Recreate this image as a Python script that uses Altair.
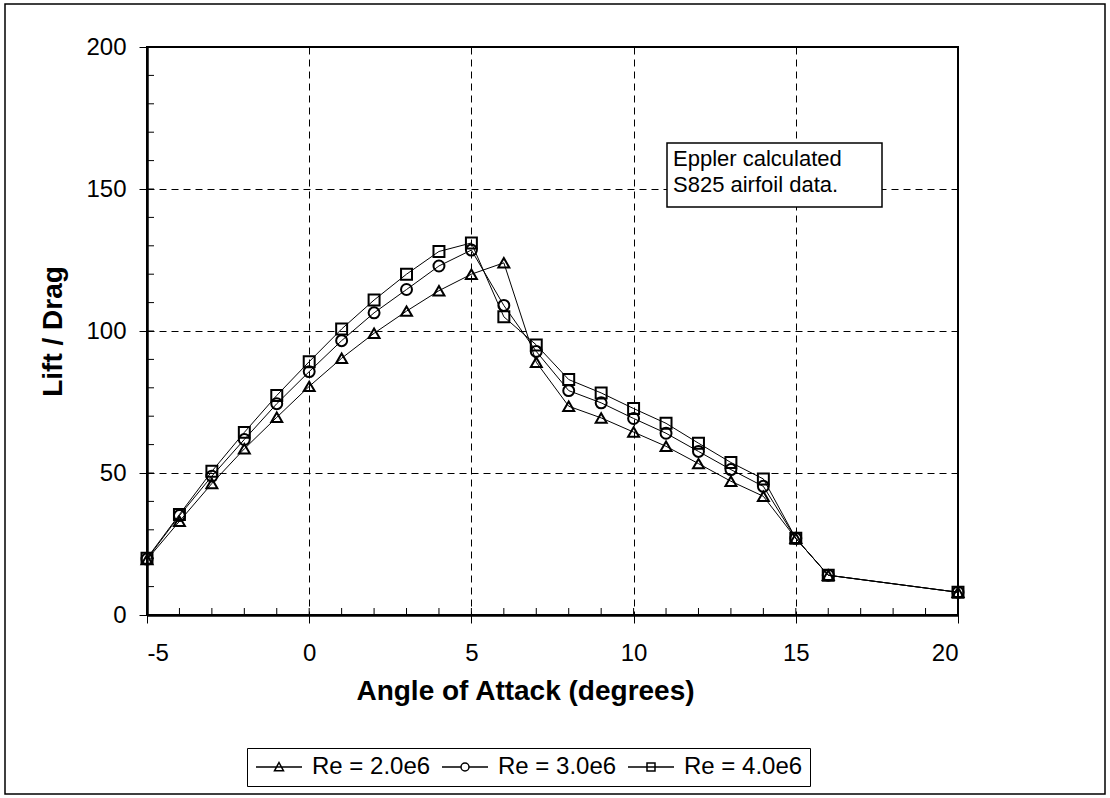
import altair as alt
import pandas as pd

# ---- data ----
aoa = [-5, -4, -3, -2, -1, 0, 1, 2, 3, 4, 5, 6, 7, 8, 9, 10, 11, 12, 13, 14, 15, 16, 20]
re2 = [19.5, 33, 46.3, 58.5, 69.6, 80.5, 90.4, 99.2, 107, 114.2, 120, 124, 89, 73.5,
       69.4, 64.4, 59.4, 53.3, 47.1, 41.8, 27, 14, 8]
re3 = [19.7, 35, 48.9, 61.8, 74.4, 85.7, 96.6, 106.4, 114.6, 122.9, 128.5, 109, 92.8, 79,
       74.7, 69.2, 64, 57.6, 51.2, 45.3, 27, 14, 8]
re4 = [20, 35.4, 50.6, 64.3, 77.3, 89.2, 100.7, 110.9, 120, 128, 131, 105, 95.1, 82.9,
       78.2, 72.7, 67.5, 60.5, 53.7, 47.9, 27, 14, 8]
series_names = ["Re = 2.0e6", "Re = 3.0e6", "Re = 4.0e6"]
x_major = [-5, 0, 5, 10, 15, 20]
y_major = [0, 50, 100, 150, 200]
x_minor = list(range(-5, 21))
y_minor = list(range(0, 201, 10))
annotation = ["Eppler calculated", "S825 airfoil data."]

rows = []
for name, vals in zip(series_names, [re2, re3, re4]):
    for a, v in zip(aoa, vals):
        rows.append({"aoa": a, "ld": v, "series": name})
df = pd.DataFrame(rows)

FONT = "Liberation Sans"
W, H = 811, 568

xs = alt.Scale(domain=[-5, 20], nice=False, zero=False)
ys = alt.Scale(domain=[0, 200], nice=False)

common_axis = dict(grid=True, gridDash=[7, 5], gridColor="black", gridWidth=1,
                   domainColor="black", domainWidth=2.5, tickColor="black",
                   tickSize=8, tickWidth=1, labelFontSize=24, labelColor="black",
                   labelFont=FONT, titleFont=FONT, titleFontSize=28,
                   titleFontWeight="bold", titleColor="black",
                   labelExpr="'' + datum.value")

x_enc = alt.X("aoa:Q", scale=xs,
              axis=alt.Axis(values=x_major, title="Angle of Attack (degrees)",
                            labelPadding=18, titlePadding=12, titleX=378, **common_axis))
y_enc = alt.Y("ld:Q", scale=ys,
              axis=alt.Axis(values=y_major, title="Lift / Drag",
                            labelPadding=13, titlePadding=18, **common_axis))

base = alt.Chart(df)

lines = base.mark_line(color="black", strokeWidth=1).encode(
    x=x_enc, y=y_enc, detail="series:N")

points = base.mark_point(filled=False, color="black", strokeWidth=2, size=120, opacity=1).encode(
    x=alt.X("aoa:Q", scale=xs), y=alt.Y("ld:Q", scale=ys),
    shape=alt.Shape("series:N", scale=alt.Scale(domain=series_names,
                                                range=["triangle-up", "circle", "square"]),
                    legend=None))

legend_paths = [
    "M-2.3,0H2.3M0,-0.45L0.45,0.38L-0.45,0.38Z",
    "M-2.3,0H-0.4M0.4,0H2.3M0.4,0A0.4,0.4,0,1,1,-0.4,0A0.4,0.4,0,1,1,0.4,0Z",
    "M-2.3,0H2.3M-0.4,-0.4H0.4V0.4H-0.4Z",
]
legend_layer = base.mark_point(filled=False, color="black", strokeWidth=1.5,
                               clip=True, opacity=1).encode(
    x=alt.value(-500), y=alt.value(-500),
    shape=alt.Shape("series:N", scale=alt.Scale(domain=series_names, range=legend_paths),
                    legend=alt.Legend(title=None, orient="none", direction="horizontal",
                                      columns=3, legendX=100, legendY=701,
                                      strokeColor="black", fillColor="white",
                                      padding=7, labelFontSize=24, labelFont=FONT,
                                      labelColor="black", labelOffset=21,
                                      symbolSize=400, symbolOffset=13, columnPadding=8,
                                      symbolStrokeColor="black", symbolStrokeWidth=1.5,
                                      symbolFillColor="transparent")))

xminor = alt.Chart(pd.DataFrame({"v": x_minor})).mark_rule(color="black", strokeWidth=1).encode(
    x=alt.X("v:Q", scale=xs), y=alt.value(H - 7), y2=alt.value(H))
yminor = alt.Chart(pd.DataFrame({"v": y_minor})).mark_rule(color="black", strokeWidth=1).encode(
    y=alt.Y("v:Q", scale=ys), x=alt.value(0), x2=alt.value(7))

ann_box = alt.Chart(pd.DataFrame({"a": [0]})).mark_rect(
    fill="white", stroke="black", strokeWidth=1.5).encode(
    x=alt.value(520), x2=alt.value(735), y=alt.value(96), y2=alt.value(160))
ann_text = alt.Chart(pd.DataFrame({"t": ["\n".join(annotation)]})).mark_text(
    align="left", baseline="top", fontSize=22, font=FONT, color="black",
    lineBreak="\n", lineHeight=26).encode(
    x=alt.value(526), y=alt.value(102), text="t:N")

outer = alt.Chart(pd.DataFrame({"a": [0]})).mark_rect(
    fill="transparent", stroke="black", strokeWidth=1.5).encode(
    x=alt.value(-142), x2=alt.value(958), y=alt.value(-43), y2=alt.value(747))

chart = alt.layer(outer, lines, points, legend_layer, xminor, yminor, ann_box, ann_text).resolve_scale(
    shape="independent"
).properties(
    width=W, height=H,
    autosize=alt.AutoSizeParams(type="none"),
    padding={"left": 147, "top": 47, "right": 1110 - 147 - W, "bottom": 798 - 47 - H},
    background="white",
).configure_view(stroke="black", strokeWidth=2)

chart.save("out.html", embed_options={"renderer": "svg", "actions": False})
